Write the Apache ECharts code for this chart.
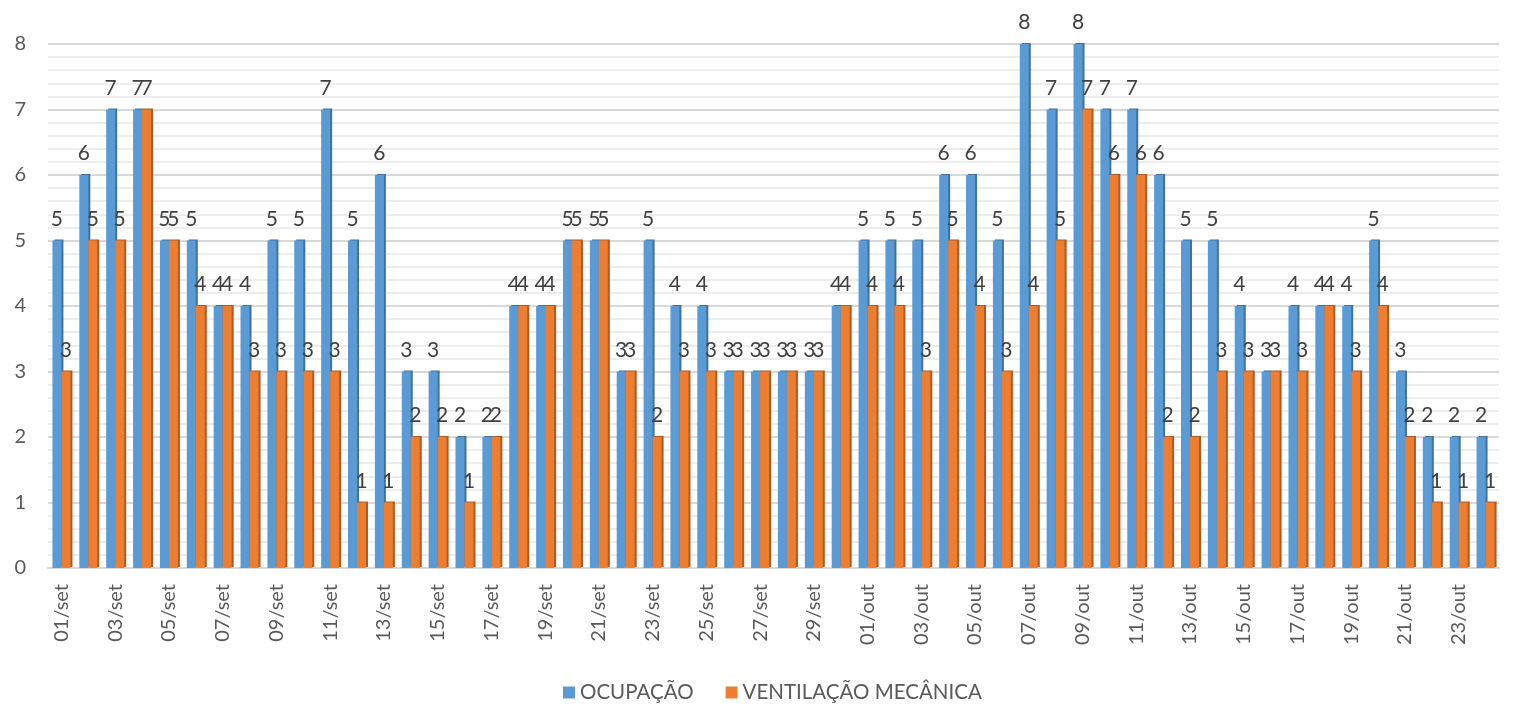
<!DOCTYPE html>
<html>
<head>
<meta charset="utf-8">
<title>Ocupação x Ventilação Mecânica</title>
<script src="https://cdn.jsdelivr.net/npm/echarts@6/dist/echarts.min.js"></script>
<style>
  html, body { margin: 0; padding: 0; background: #fff; }
  #main { width: 1514px; height: 711px; }
</style>
</head>
<body>
<div id="main"></div>
<script>
// dias: 01/set a 24/out
var dias = [
    '01/set', '02/set', '03/set', '04/set', '05/set', '06/set', '07/set', '08/set', '09/set', '10/set',
    '11/set', '12/set', '13/set', '14/set', '15/set', '16/set', '17/set', '18/set', '19/set', '20/set',
    '21/set', '22/set', '23/set', '24/set', '25/set', '26/set', '27/set', '28/set', '29/set', '30/set',
    '01/out', '02/out', '03/out', '04/out', '05/out', '06/out', '07/out', '08/out', '09/out', '10/out',
    '11/out', '12/out', '13/out', '14/out', '15/out', '16/out', '17/out', '18/out', '19/out', '20/out',
    '21/out', '22/out', '23/out', '24/out'
];
var ocupacao = [
    5, 6, 7, 7, 5, 5, 4, 4, 5, 5,
    7, 5, 6, 3, 3, 2, 2, 4, 4, 5,
    5, 3, 5, 4, 4, 3, 3, 3, 3, 4,
    5, 5, 5, 6, 6, 5, 8, 7, 8, 7,
    7, 6, 5, 5, 4, 3, 4, 4, 4, 5,
    3, 2, 2, 2
];
var ventilacao = [
    3, 5, 5, 7, 5, 4, 4, 3, 3, 3,
    3, 1, 1, 2, 2, 1, 2, 4, 4, 5,
    5, 3, 2, 3, 3, 3, 3, 3, 3, 4,
    4, 4, 3, 5, 4, 3, 4, 5, 7, 6,
    6, 2, 2, 3, 3, 3, 3, 4, 3, 4,
    2, 1, 1, 1
];
var yTicks = [0, 1, 2, 3, 4, 5, 6, 7, 8];

var fonte = 'Lato, "Open Sans", sans-serif';

var myChart = echarts.init(document.getElementById('main'));

function serie(nome, dados, cor, lado) {
    return {
        name: nome,
        type: 'bar',
        data: dados,
        barWidth: 9,
        barGap: '0%',
        itemStyle: {
            color: cor,
            shadowColor: lado,
            shadowBlur: 0,
            shadowOffsetX: 2,
            shadowOffsetY: -1
        },
        label: {
            show: true,
            position: 'top',
            distance: 11,
            color: '#404040',
            fontFamily: fonte,
            fontSize: 21
        }
    };
}

var option = {
    animation: false,
    color: ['#5B9BD5', '#ED7D31'],
    grid: {
        left: 48,
        right: 15,
        top: 44,
        bottom: 143
    },
    legend: {
        bottom: 3,
        left: 558,
        icon: 'rect',
        itemWidth: 12,
        itemHeight: 12,
        itemGap: 32,
        textStyle: {
            color: '#595959',
            fontFamily: fonte,
            fontSize: 20.5
        },
        data: ['OCUPAÇÃO', 'VENTILAÇÃO MECÂNICA']
    },
    xAxis: {
        type: 'category',
        data: dias,
        axisLine: { show: true, lineStyle: { color: '#d9d9d9', width: 2 } },
        axisTick: { show: false },
        axisLabel: {
            interval: 1,
            rotate: 90,
            margin: 16,
            color: '#595959',
            fontFamily: fonte,
            fontSize: 20
        }
    },
    yAxis: {
        type: 'value',
        min: yTicks[0],
        max: yTicks[yTicks.length - 1],
        interval: 1,
        axisLine: { show: false },
        axisTick: { show: false },
        axisLabel: {
            margin: 22,
            color: '#595959',
            fontFamily: fonte,
            fontSize: 20
        },
        splitLine: { lineStyle: { color: '#d9d9d9', width: 2 } },
        minorTick: { show: false, splitNumber: 5 },
        minorSplitLine: { show: true, lineStyle: { color: '#ededed', width: 2 } }
    },
    series: [
        serie('OCUPAÇÃO', ocupacao, '#5B9BD5', '#41719C'),
        serie('VENTILAÇÃO MECÂNICA', ventilacao, '#ED7D31', '#AE5A21')
    ]
};
myChart.setOption(option);
</script>
</body>
</html>
